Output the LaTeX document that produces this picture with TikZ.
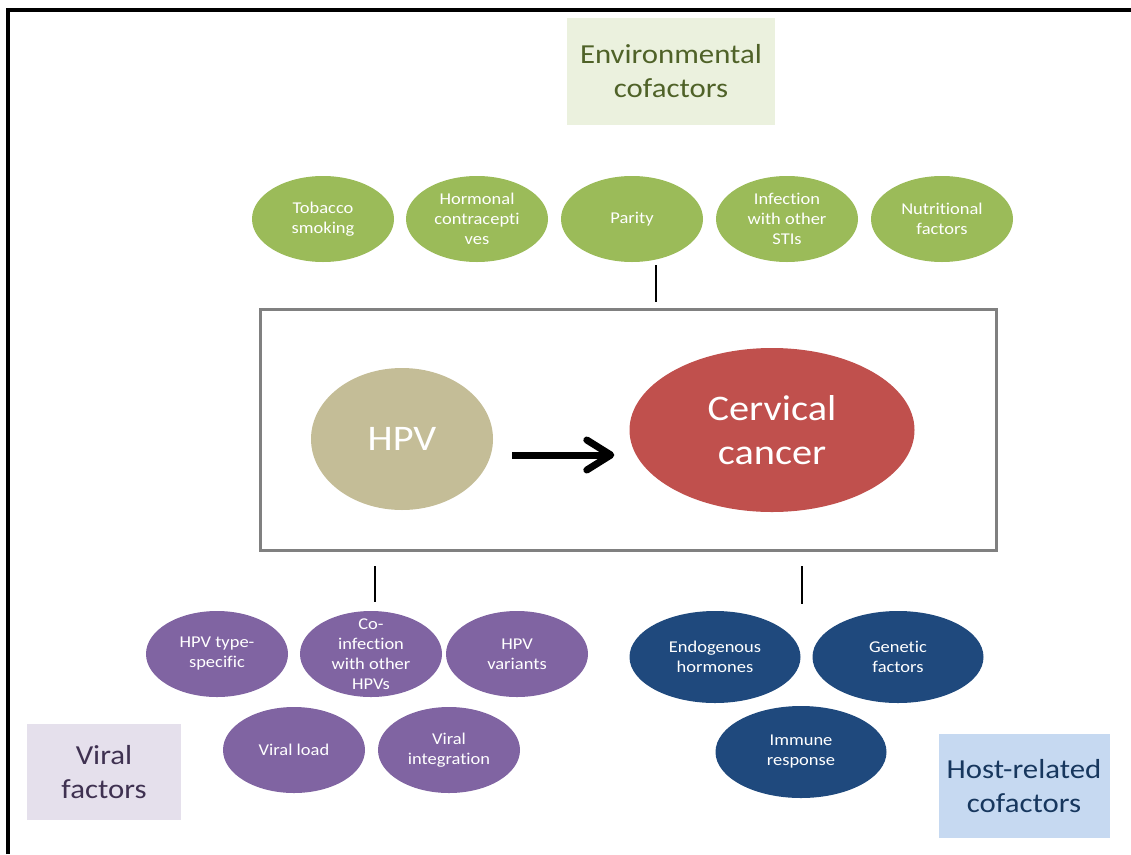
\documentclass[tikz,border=0pt]{standalone}
\usepackage{fontspec}
\setmainfont{Carlito}[FakeStretch=1.12, Ligatures=NoCommon]
\usepackage{tikz}
\usetikzlibrary{shapes.geometric,arrows.meta,calc}

\definecolor{envgreen}{RGB}{155,187,89}
\definecolor{envlight}{RGB}{235,241,222}
\definecolor{envdark}{RGB}{79,98,40}
\definecolor{virpurple}{RGB}{128,100,162}
\definecolor{virlight}{RGB}{229,224,236}
\definecolor{virdark}{RGB}{63,49,81}
\definecolor{hostblue}{RGB}{31,73,125}
\definecolor{hostlight}{RGB}{198,217,241}
\definecolor{hostdark}{RGB}{23,55,94}
\definecolor{hpvtan}{RGB}{196,189,151}
\definecolor{cancerred}{RGB}{192,80,77}

\tikzset{
  factor/.style={ellipse, inner sep=0pt, text=white, align=center,
    minimum width=142, minimum height=86, font=\fontsize{16.5}{20}\selectfont},
  envfactor/.style={factor, fill=envgreen},
  virfactor/.style={factor, fill=virpurple},
  hostfactor/.style={factor, fill=hostblue, minimum width=171, minimum height=92},
  grouplabel/.style={inner sep=0pt, align=center, font=\fontsize{27.5}{34}\selectfont},
  tick/.style={line width=2},
}

\begin{document}
\begin{tikzpicture}[x=1pt,y=-1pt]
    \useasboundingbox (0,0) rectangle (1131,854);
    \draw[line width=3.5] (8,854) -- (8,10) -- (1131,10);

    % group labels
    \node[grouplabel, fill=envlight, text=envdark, minimum width=208, minimum height=107]
        (envlabel) at (671,71) {Environmental\\cofactors};
    \node[grouplabel, fill=virlight, text=virdark, minimum width=154, minimum height=96]
        (virlabel) at (104,772) {Viral\\factors};
    \node[grouplabel, fill=hostlight, text=hostdark, minimum width=171, minimum height=104]
        (hostlabel) at (1024,786) {Host-related\\cofactors};

    % environmental cofactors
    \node[envfactor] (tobacco) at (323,219) {Tobacco\\smoking};
    \node[envfactor] (hormonal) at (477,219) {Hormonal\\contracepti\\ves};
    \node[envfactor] (parity) at (632,219) {Parity};
    \node[envfactor] (sti) at (787,219) {Infection\\with other\\STIs};
    \node[envfactor] (nutrition) at (942,219) {Nutritional\\factors};

    % main box
    \node[draw=gray, line width=3, minimum width=736, minimum height=241, inner sep=0pt]
        (mainbox) at (628,429.5) {};
    \node[ellipse, fill=hpvtan, text=white, minimum width=182, minimum height=142, inner sep=0pt,
        font=\fontsize{36}{44}\selectfont] (hpv) at (402,439) {HPV};
    \node[ellipse, fill=cancerred, text=white, minimum width=285, minimum height=164, inner sep=0pt,
        align=center, font=\fontsize{36}{44}\selectfont] (cancer) at (772,430) {Cervical\\cancer};
    \draw[line width=7, -{Straight Barb[round, length=24, width=30]}]
        ($(hpv.east)+(19,16)$) -- ($(hpv.east -| cancer.west)+(-15,16)$);

    % ticks
    \coordinate (envtick) at (656,265);
    \draw[tick] (envtick) -- (envtick |- mainbox.north) [shorten >=6];
    \coordinate (virtick) at (375,566);
    \draw[tick] (virtick) -- ++(0,36);
    \coordinate (hosttick) at (802,566);
    \draw[tick] (hosttick) -- ++(0,38);

    % viral factors
    \node[virfactor] (typespec) at (217,654) {HPV type-\\specific};
    \node[virfactor, inner ysep=-9pt] (coinf) at (371,654) {Co-\\infection\\with other\\HPVs};
    \node[virfactor] (variants) at (517,654) {HPV\\variants};
    \node[virfactor] (load) at (294,750) {Viral load};
    \node[virfactor] (integr) at (449,750) {Viral\\integration};

    % host-related cofactors
    \node[hostfactor] (endo) at (715,657) {Endogenous\\hormones};
    \node[hostfactor] (genetic) at (898,657) {Genetic\\factors};
    \node[hostfactor] (immune) at (801,752) {Immune\\response};
\end{tikzpicture}
\end{document}
